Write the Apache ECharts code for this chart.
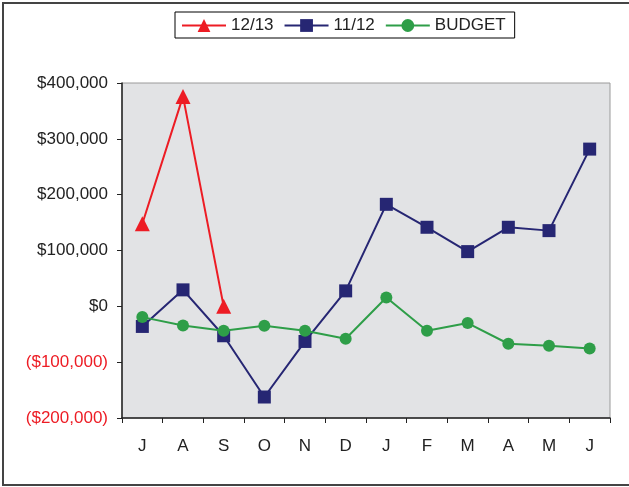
<!DOCTYPE html>
<html>
<head>
<meta charset="utf-8">
<script src="https://cdn.jsdelivr.net/npm/echarts@6/dist/echarts.min.js"></script>
<style>
  html, body { margin: 0; padding: 0; background: #fff; }
  #main { width: 629px; height: 487px; }
</style>
</head>
<body>
<div id="main"></div>
<script>
  // months, July to June
  var months = ['J', 'A', 'S', 'O', 'N', 'D', 'J', 'F', 'M', 'A', 'M', 'J']
  var fy1213 = [148000, 376000, 0]
  var fy1112 = [-36000, 29500, -52700, -162400, -62900, 27700, 182700, 141600, 98000, 141600, 135600, 281600]
  var budget = [-19300, -34300, -43800, -34900, -43800, -58100, 15700, -43800, -30000, -67000, -70600, -75400]

  var myChart = echarts.init(document.getElementById('main'))

  var money = function (v) {
    var s = '$' + Math.abs(v).toLocaleString('en-US')
    return v < 0 ? '(' + s + ')' : s
  }

  var font = 'Liberation Sans, Arial, sans-serif'

  var option = {
    backgroundColor: '#fff',
    animation: false,
    textStyle: { fontFamily: font },
    graphic: [{
      type: 'rect',
      shape: { x: 3, y: 3, width: 640, height: 482 },
      style: { fill: 'none', stroke: '#444', lineWidth: 2 },
      silent: true
    }],
    legend: {
      left: 175,
      top: 12,
      padding: [5, 9, 4, 6],
      borderColor: '#000',
      borderWidth: 1,
      itemWidth: 44,
      itemHeight: 16,
      itemGap: 10,
      textStyle: { fontSize: 17, color: '#222', fontFamily: font },
      data: ['12/13', '11/12', 'BUDGET']
    },
    grid: {
      left: 122,
      right: 19,
      top: 83,
      bottom: 69,
      show: true,
      backgroundColor: '#e2e3e5',
      borderColor: '#9a9a9a',
      borderWidth: 1
    },
    xAxis: {
      type: 'category',
      data: months,
      boundaryGap: true,
      axisLine: { onZero: false, lineStyle: { color: '#222', width: 1.5 } },
      axisTick: { show: true, length: 5, lineStyle: { color: '#222' } },
      axisLabel: { fontSize: 17, color: '#222', margin: 20, fontFamily: font },
      splitLine: { show: false }
    },
    yAxis: {
      type: 'value',
      min: -200000,
      max: 400000,
      interval: 100000,
      axisLine: { show: true, lineStyle: { color: '#222', width: 1.5 } },
      axisTick: { show: true, length: 5, lineStyle: { color: '#222' } },
      axisLabel: {
        fontSize: 17,
        margin: 14,
        fontFamily: font,
        formatter: money,
        color: function (v) { return v < 0 ? '#ed1c24' : '#222' }
      },
      splitLine: { show: false }
    },
    series: [{
      name: '12/13',
      type: 'line',
      data: fy1213,
      symbol: 'triangle',
      symbolSize: 15,
      itemStyle: { color: '#ed1c24' },
      lineStyle: { color: '#ed1c24', width: 2 },
      z: 4
    },
    {
      name: '11/12',
      type: 'line',
      data: fy1112,
      symbol: 'rect',
      symbolSize: 13,
      itemStyle: { color: '#262673' },
      lineStyle: { color: '#262673', width: 2 },
      z: 3
    },
    {
      name: 'BUDGET',
      type: 'line',
      data: budget,
      symbol: 'circle',
      symbolSize: 12,
      itemStyle: { color: '#2e9e48' },
      lineStyle: { color: '#2e9e48', width: 2 },
      z: 5
    }]
  }
  myChart.setOption(option)
</script>
</body>
</html>
